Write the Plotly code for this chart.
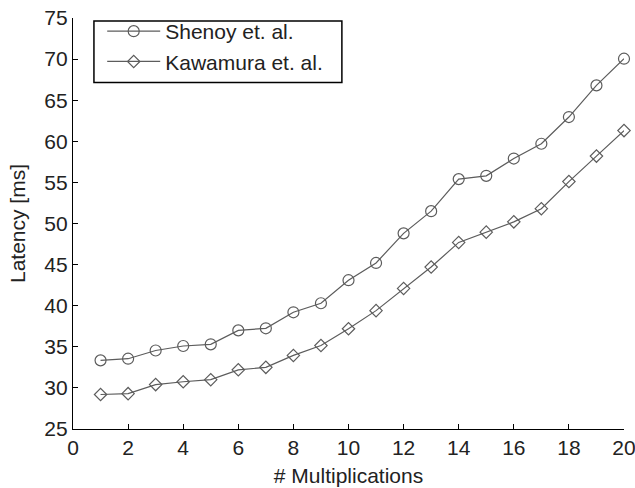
import plotly.graph_objects as go

# Number of multiplications performed
multiplications = list(range(1, 21))

# Measured latency [ms]
shenoy_latency = [33.35, 33.55, 34.55, 35.1, 35.3, 37.0, 37.25, 39.2, 40.3, 43.1,
                  45.2, 48.8, 51.5, 55.4, 55.8, 57.9, 59.7, 62.95, 66.8, 70.05]
kawamura_latency = [29.2, 29.3, 30.4, 30.75, 31.0, 32.2, 32.5, 33.95, 35.15, 37.2,
                    39.4, 42.1, 44.7, 47.7, 48.95, 50.2, 51.8, 55.1, 58.2, 61.3]

x_ticks = list(range(0, 21, 2))
y_ticks = list(range(25, 76, 5))

line_color = "#5c5c5c"
text_color = "#222222"
font_family = "Liberation Sans, Arial, sans-serif"
font_size = 21

fig = go.Figure()
fig.add_trace(go.Scatter(
    x=multiplications, y=shenoy_latency, name="Shenoy et. al.",
    mode="lines+markers",
    line=dict(color=line_color, width=1.2),
    marker=dict(symbol="circle-open", size=11, color=line_color, line=dict(width=1.2)),
    cliponaxis=False,
))
fig.add_trace(go.Scatter(
    x=multiplications, y=kawamura_latency, name="Kawamura et. al.",
    mode="lines+markers",
    line=dict(color=line_color, width=1.2),
    marker=dict(symbol="diamond-open", size=9.5, color=line_color, line=dict(width=1.2)),
    cliponaxis=False,
))

axis_common = dict(
    showgrid=False, zeroline=False, showline=True, linecolor="black", linewidth=1.2,
    ticks="inside", ticklen=5, tickwidth=1, tickcolor="black", automargin=False,
    ticklabeloverflow="allow",
    tickfont=dict(size=font_size, color=text_color, family=font_family),
)

# Legend frame drawn around the legend entries
fig.add_shape(type="rect", xref="paper", yref="paper",
              x0=0.038, x1=0.488, y0=0.843, y1=0.993,
              line=dict(color="black", width=1.5), fillcolor="white", layer="below")

fig.update_layout(
    template="none",
    width=635, height=488,
    margin=dict(l=73, r=11, t=14, b=59),
    paper_bgcolor="white", plot_bgcolor="white",
    font=dict(family=font_family, color=text_color, size=font_size),
    xaxis=dict(range=[0, 20], tickvals=x_ticks,
               title=dict(text="# Multiplications", font=dict(size=font_size), standoff=10),
               **axis_common),
    yaxis=dict(range=[25, 75], tickvals=y_ticks,
               title=dict(text="Latency [ms]", font=dict(size=font_size), standoff=12),
               **axis_common),
    legend=dict(x=0.053, y=1.017, xanchor="left", yanchor="top",
                bgcolor="rgba(0,0,0,0)", borderwidth=0,
                font=dict(size=font_size, color=text_color), tracegroupgap=0,
                itemwidth=53),
    showlegend=True,
)

fig.write_html("out.html")
